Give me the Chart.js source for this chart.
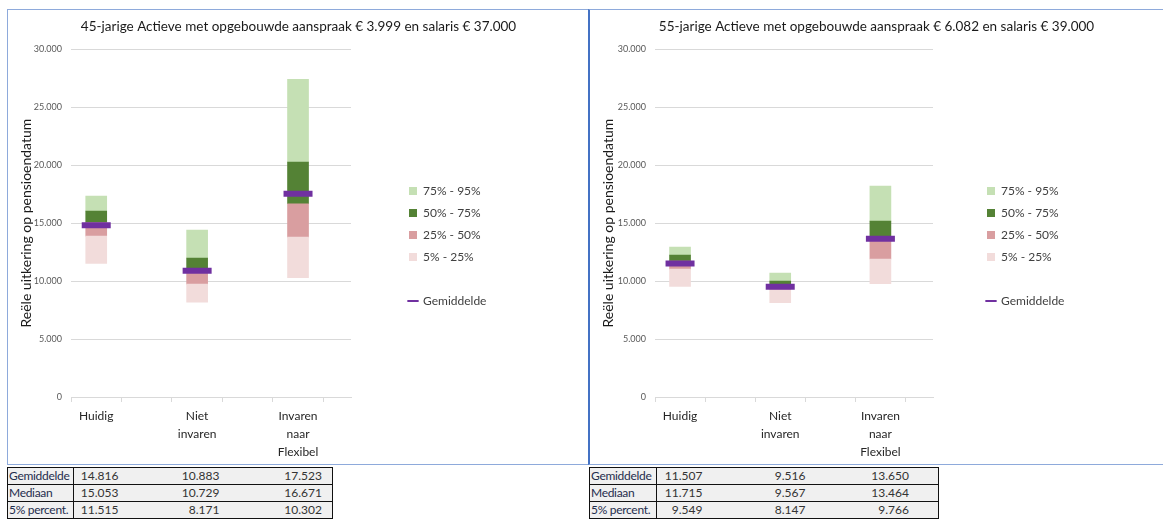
<!DOCTYPE html>
<html><head><meta charset="utf-8">
<script src="https://cdn.jsdelivr.net/npm/chart.js@4.4.1/dist/chart.umd.min.js"></script>
<style>
body{margin:0;background:#fff;width:1163px;height:519px;overflow:hidden;position:relative;font-family:Lato,sans-serif}
#boxL{position:absolute;left:7px;top:9px;width:581px;height:454px;border:1px solid #8eaadb;border-right:none}
#boxR{position:absolute;left:588px;top:9px;width:580px;height:454px;border:1px solid #8eaadb;border-left:2px solid #4472c4}
canvas{position:absolute}
table{position:absolute;border-collapse:collapse;font-size:12px;background:#f0f0f0;color:#333;table-layout:fixed}
td{border-top:1px solid #111;border-bottom:1px solid #111;height:16px;padding:0;line-height:16px;text-align:right;white-space:nowrap;overflow:hidden}
td.lab{text-align:left;border-right:1px solid #111;border-left:1px solid #111;padding-left:1px;color:#1f2d4d;letter-spacing:-0.3px}
td.end{border-right:1px solid #111}
</style>
</head><body>
<div id="boxL"></div><div id="boxR"></div>
<canvas id="cL" width="581" height="454" style="left:8px;top:10px"></canvas>
<canvas id="cR" width="573" height="454" style="left:590px;top:10px"></canvas>
<table id="tL" style="left:7px;top:467px;width:325px"></table>
<table id="tR" style="left:589px;top:467px;width:349px"></table>
<script>
const categories = [['Huidig'], ['Niet','invaren'], ['Invaren','naar','Flexibel']];
const bandLabels = ['5% - 25%', '25% - 50%', '50% - 75%', '75% - 95%'];
const meanLabel = 'Gemiddelde';
const yTitle = 'Reële uitkering op pensioendatum';
const yTicks = [0, 5000, 10000, 15000, 20000, 25000, 30000];
const rowLabels = ['Gemiddelde', 'Mediaan', '5% percent.'];

const titleL = '45-jarige Actieve met opgebouwde aanspraak € 3.999 en salaris € 37.000';
const p5L  = [11515, 8171, 10302];
const p25L = [13880, 9740, 13790];
const p50L = [15053, 10729, 16671];
const p75L = [16030, 11990, 20260];
const p95L = [17330, 14400, 27410];
const meanL = [14816, 10883, 17523];

const titleR = '55-jarige Actieve met opgebouwde aanspraak € 6.082 en salaris € 39.000';
const p5R  = [9549, 8147, 9766];
const p25R = [11030, 9250, 11900];
const p50R = [11715, 9567, 13464];
const p75R = [12240, 10000, 15170];
const p95R = [12930, 10690, 18190];
const meanR = [11507, 9516, 13650];

const bandColors = ['#f2dcdb', '#d99ea0', '#548235', '#c5e0b4'];
const fmt = v => String(Math.round(v)).replace(/\B(?=(\d{3})+(?!\d))/g, '.');

// lets the legend take the remaining width at the right (instead of the default cap)
const legendWidthPlugin = {
  id: 'legendWidth',
  beforeLayout(chart, args, opts) {
    const lg = chart.legend;
    if (lg && !lg._widthPatched) {
      const orig = lg.fit.bind(lg);
      lg.fit = function () { orig(); this.width = opts.width; };
      lg._widthPatched = true;
    }
  }
};

function makeChart(id, title, p5, p25, p50, p75, p95, mean, L) {
  const bounds = [p5, p25, p50, p75, p95];
  const xs = categories.map((c, i) => i * 2);
  const bandSets = bandLabels.map((lab, b) => ({
    type: 'bar', label: lab,
    data: xs.map((x, i) => ({x: x, y: [bounds[b][i], bounds[b + 1][i]]})),
    backgroundColor: bandColors[b], borderWidth: 0, barThickness: 21,
    grouped: false, pointStyle: 'rect', yAxisID: 'y'
  }));
  const meanSet = {
    type: 'line', label: meanLabel, data: xs.map((x, i) => ({x: x, y: mean[i]})),
    showLine: false, pointStyle: 'line', pointRadius: 14.5, pointBorderWidth: 6,
    borderColor: '#7030a0', backgroundColor: '#7030a0', pointBorderColor: '#7030a0', yAxisID: 'y'
  };
  const blank = {type: 'bar', label: '', data: [], backgroundColor: 'rgba(0,0,0,0)', pointStyle: 'rect', yAxisID: 'y'};
  const labelMap = {};
  categories.forEach((c, i) => labelMap[i * 2] = c);
  const tickVals = [-0.5, 0, 0.5, 1.5, 2, 2.5, 3.5, 4, 4.5];
  const canvas = document.getElementById(id);
  return new Chart(canvas, {
    type: 'bar',
    data: {datasets: [meanSet, blank, ...bandSets]},
    plugins: [legendWidthPlugin],
    options: {
      responsive: false, animation: false, events: [],
      layout: {padding: 0},
      plugins: {
        legendWidth: {width: canvas.width - L.areaRight - L.gap},
        tooltip: {enabled: false},
        title: {display: true, text: title, color: '#1a1a1a',
          font: {family: 'Lato', size: 13.5, weight: 'normal'}, padding: {top: 9, bottom: 14}},
        legend: {
          position: 'right', align: 'center', reverse: true, fullSize: true,
          title: {display: true, text: '', font: {size: 10, lineHeight: 1}, padding: {top: 4, bottom: 4}},
          labels: {
            usePointStyle: true, boxWidth: 8, boxHeight: 8, padding: 10, color: '#404040',
            font: {family: 'Lato', size: 12, lineHeight: 1},
            generateLabels: chart => {
              const items = Chart.defaults.plugins.legend.labels.generateLabels(chart);
              items.forEach(it => {
                if (it.text === meanLabel) { it.lineWidth = 2; }
                if (it.text === '') { it.fillStyle = 'rgba(0,0,0,0)'; it.strokeStyle = 'rgba(0,0,0,0)'; it.lineWidth = 0; }
              });
              return items;
            }
          }
        }
      },
      scales: {
        x: {
          type: 'linear', min: -0.5, max: 5.05, offset: false,
          afterBuildTicks: s => { s.ticks = tickVals.map(v => ({value: v})); },
          afterFit: s => { s.height = 67; },
          ticks: {autoSkip: false, maxRotation: 0, padding: 5, color: '#262626',
            font: {family: 'Lato', size: 12, lineHeight: 1.5},
            callback: v => labelMap[v] || ''},
          grid: {display: true, drawOnChartArea: false, tickLength: 5, offset: false,
            tickColor: ctx => (ctx.tick && Number.isInteger(ctx.tick.value)) ? 'rgba(0,0,0,0)' : '#d9d9d9'},
          border: {display: true, color: '#d9d9d9'}
        },
        y: {
          min: 0, max: 30000,
          afterBuildTicks: s => { s.ticks = yTicks.map(v => ({value: v})); },
          afterFit: s => { s.width = L.yWidth; },
          ticks: {padding: 9, color: '#595959', font: {family: 'Lato', size: 9}, callback: v => fmt(v)},
          grid: {color: '#d9d9d9', drawTicks: false},
          border: {display: false},
          title: {display: true, text: yTitle, color: '#1a1a1a', padding: {top: 10, bottom: 0},
            font: {family: 'Lato', size: 14}}
        },
        gapInner: {
          position: 'right', display: true, weight: 0,
          ticks: {display: false}, grid: {display: false}, border: {display: false},
          afterFit: s => { s.width = L.gap; }
        }
      }
    }
  });
}

makeChart('cL', titleL, p5L, p25L, p50L, p75L, p95L, meanL, {yWidth: 63, areaRight: 343, gap: 48});
makeChart('cR', titleR, p5R, p25R, p50R, p75R, p95R, meanR, {yWidth: 65, areaRight: 343, gap: 44});

function makeTable(id, mean, p50, p5, widths, lastPad) {
  const rows = [mean, p50, p5];
  const t = document.getElementById(id);
  let html = '<colgroup>' + widths.map(w => '<col style="width:' + w + 'px">').join('') + '</colgroup>';
  rows.forEach((r, ri) => {
    html += '<tr><td class="lab">' + rowLabels[ri] + '</td>';
    r.forEach((v, i) => {
      const pad = i === 2 ? lastPad : 10;
      html += '<td' + (i === 2 ? ' class="end"' : '') + ' style="padding-right:' + pad + 'px">' + fmt(v) + '</td>';
    });
    html += '</tr>';
  });
  t.innerHTML = html;
}
makeTable('tL', meanL, p50L, p5L, [66, 55, 101, 103], 10);
makeTable('tR', meanR, p50R, p5R, [67, 56, 103, 123], 29);
</script>
</body></html>
